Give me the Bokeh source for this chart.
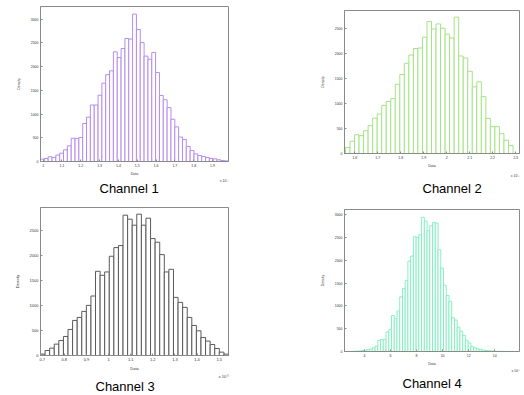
from bokeh.plotting import figure
from bokeh.models import Range1d, FixedTicker, NumeralTickFormatter, Title
from bokeh.layouts import row, column
from bokeh.embed import file_html
from bokeh.resources import INLINE

FONT = "Liberation Sans"

# ---------------- data ----------------
ch1_start = 0.986
ch1_width = 0.02039
ch1_counts = [50, 63, 100, 85, 135, 175, 245, 330, 490, 485,
              505, 800, 935, 1190, 1190, 1395, 1650, 1830, 1910, 2310,
              2190, 2380, 2590, 2580, 3105, 2780, 2505, 2220, 2155, 2295,
              1875, 1390, 1300, 1135, 890, 730, 515, 465, 315, 230,
              160, 125, 105, 85, 65, 55, 35, 20, 12]
ch1_xlim = (0.986, 1.985)
ch1_ylim = (0, 3265)
ch1_xticks = [1.0, 1.1, 1.2, 1.3, 1.4, 1.5, 1.6, 1.7, 1.8, 1.9]
ch1_yticks = [0, 500, 1000, 1500, 2000, 2500, 3000]

ch2_start = 1.5592
ch2_width = 0.01972
ch2_counts = [120, 245, 375, 355, 455, 555, 705, 785, 960, 1040,
              1095, 1380, 1575, 1800, 1965, 2095, 2105, 2320, 2635, 2485,
              2585, 2500, 2380, 2305, 2720, 1945, 1905, 1640, 1330, 1430,
              1135, 700, 535, 535, 395, 265, 160]
ch2_xlim = (1.555, 2.317)
ch2_ylim = (0, 2853)
ch2_xticks = [1.6, 1.7, 1.8, 1.9, 2.0, 2.1, 2.2, 2.3]
ch2_yticks = [0, 500, 1000, 1500, 2000, 2500]

ch3_start = 0.6925
ch3_width = 0.02072
ch3_counts = [27, 100, 147, 227, 300, 380, 520, 700, 760, 880,
              1000, 1187, 1680, 1600, 1667, 1980, 2153, 2193, 2800, 2720,
              2600, 2820, 2600, 2740, 2333, 2260, 2013, 1667, 1720, 1160,
              1060, 960, 760, 600, 493, 360, 287, 220, 140, 67, 27]
ch3_xlim = (0.6925, 1.542)
ch3_ylim = (0, 2953)
ch3_xticks = [0.7, 0.8, 0.9, 1.0, 1.1, 1.2, 1.3, 1.4, 1.5]
ch3_yticks = [0, 500, 1000, 1500, 2000, 2500]

ch4_start = 2.51
ch4_width = 0.21
ch4_counts = [0, 2, 3, 5, 10, 15, 20, 30, 40, 55,
              80, 120, 245, 260, 265, 430, 480, 790, 720, 890,
              1200, 1380, 1560, 1985, 2095, 2520, 2505, 2565, 2945, 2860,
              2650, 2760, 2830, 2820, 2235, 1830, 1455, 1230, 1100, 740,
              690, 535, 445, 355, 245, 185, 105, 80, 60, 50,
              35, 25, 18, 12, 8, 5, 4, 3, 2, 2,
              1, 1, 0, 0]
ch4_xlim = (2.475, 15.9)
ch4_ylim = (0, 3117)
ch4_xticks = [4, 6, 8, 10, 12, 14]
ch4_yticks = [0, 500, 1000, 1500, 2000, 2500, 3000]

captions = ["Channel 1", "Channel 2", "Channel 3", "Channel 4"]
exponents = ["x 10\u207b\u00b3", "x 10\u207b\u00b3", "x 10\u207b\u00b3", "x 10\u2074"]


def make_hist(counts, start, width, xlim, ylim, xticks, yticks, color,
              caption, exp_text, cap_offset, w, h, mb, cap_standoff,
              exp_standoff, tick_fs="3.5px", lab_fs="3.5px"):
    p = figure(width=w, height=h, output_backend="svg", toolbar_location=None,
               x_range=Range1d(*xlim), y_range=Range1d(*ylim),
               min_border_left=mb[0], min_border_right=mb[1],
               min_border_top=mb[2], min_border_bottom=mb[3])
    left = [start + i * width for i in range(len(counts))]
    right = [l + width for l in left]
    p.quad(left=left, right=right, bottom=0, top=counts,
           fill_color="white", line_color=color, line_width=1)
    p.xgrid.visible = False
    p.ygrid.visible = False
    p.outline_line_color = "#8a8a8a"
    p.background_fill_color = "white"
    p.border_fill_color = "white"
    p.xaxis.ticker = FixedTicker(ticks=xticks)
    p.yaxis.ticker = FixedTicker(ticks=yticks)
    p.xaxis.formatter = NumeralTickFormatter(format="0.[0]")
    for ax in (p.xaxis, p.yaxis):
        ax.axis_line_color = "#8a8a8a"
        ax.major_tick_line_color = "#8a8a8a"
        ax.major_tick_in = 2
        ax.major_tick_out = 0
        ax.minor_tick_line_color = None
        ax.major_label_text_font = FONT
        ax.major_label_text_font_size = tick_fs
        ax.major_label_text_color = "#333333"
        ax.major_label_standoff = 2
        ax.axis_label_text_font = FONT
        ax.axis_label_text_font_size = lab_fs
        ax.axis_label_text_font_style = "normal"
        ax.axis_label_text_color = "#333333"
    p.xaxis.axis_label = "Data"
    p.yaxis.axis_label = "Density"
    p.xaxis.axis_label_standoff = 2
    p.yaxis.axis_label_standoff = 7
    p.add_layout(Title(text=exp_text, align="right", standoff=exp_standoff,
                       text_font=FONT, text_font_size=tick_fs,
                       text_font_style="normal", text_color="#333333"), "below")
    p.add_layout(Title(text=caption, align="left", offset=cap_offset,
                       standoff=cap_standoff, text_font=FONT,
                       text_font_size="13px", text_font_style="normal",
                       text_color="black"), "below")
    return p


p1 = make_hist(ch1_counts, ch1_start, ch1_width, ch1_xlim, ch1_ylim,
               ch1_xticks, ch1_yticks, "#b48cf0", captions[0], exponents[0],
               59, 262, 197, (36, 29, 6, 36), -3, -4)
p2 = make_hist(ch2_counts, ch2_start, ch2_width, ch2_xlim, ch2_ylim,
               ch2_xticks, ch2_yticks, "#a4e486", captions[1], exponents[1],
               78, 262, 197, (77, 5, 10, 44), 1, 2)
p3 = make_hist(ch3_counts, ch3_start, ch3_width, ch3_xlim, ch3_ylim,
               ch3_xticks, ch3_yticks, "#5a5a5a", captions[2], exponents[2],
               55, 262, 198, (40, 34, 10, 40), 1, -4,
               tick_fs="4px", lab_fs="4px")
p4 = make_hist(ch4_counts, ch4_start, ch4_width, ch4_xlim, ch4_ylim,
               ch4_xticks, ch4_yticks, "#86f0c4", captions[3], exponents[3],
               58, 262, 198, (82, 1, 12, 44), 7, -4)

layout = row(column(p1, p3), column(p2, p4))

open("out.html", "w").write(file_html(layout, INLINE))
